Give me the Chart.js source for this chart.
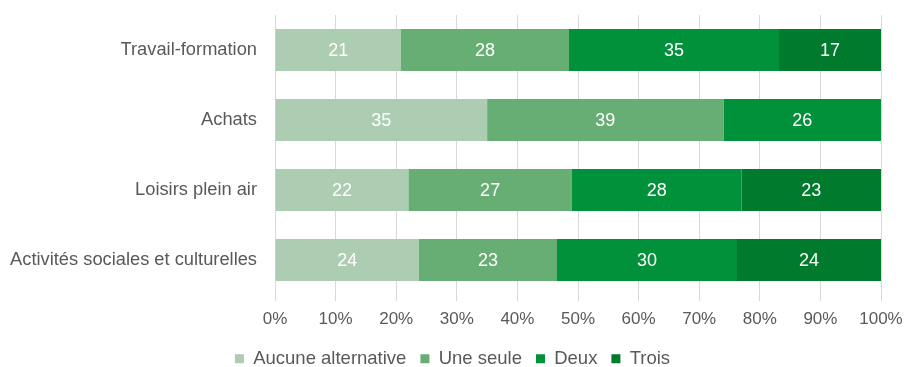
<!DOCTYPE html>
<html>
<head>
<meta charset="utf-8">
<script src="https://cdn.jsdelivr.net/npm/chart.js@4/dist/chart.umd.min.js"></script>
<style>
  html, body { margin: 0; padding: 0; background: #fff; }
  #wrap { width: 905px; height: 367px; position: relative; }
</style>
</head>
<body>
<div id="wrap"><canvas id="chart"></canvas></div>
<script>
// Categories and series (in %)
const categories = ['Travail-formation', 'Achats', 'Loisirs plein air', 'Activités sociales et culturelles'];
const seriesNames = ['Aucune alternative', 'Une seule', 'Deux', 'Trois'];
const aucune = [21, 35, 22, 24];
const uneSeule = [28, 39, 27, 23];
const deux = [35, 26, 28, 30];
const trois = [17, 0, 23, 24];
const xTicks = ['0%', '10%', '20%', '30%', '40%', '50%', '60%', '70%', '80%', '90%', '100%'];

const colors = ['#adcdb2', '#67ae74', '#00913a', '#007a2c'];
const allSeries = [aucune, uneSeule, deux, trois];

// 100% stacked: normalise each row to its total
const totals = categories.map((_, i) => allSeries.reduce((s, arr) => s + arr[i], 0));

const datasets = allSeries.map((arr, k) => ({
    label: seriesNames[k],
    data: arr.map((v, i) => v / totals[i] * 100),
    raw: arr,
    backgroundColor: colors[k],
    borderWidth: 0,
    barPercentage: 0.6,
    categoryPercentage: 1.0
}));

// Draw the value labels inside each segment
const valueLabels = {
    id: 'valueLabels',
    afterDatasetsDraw(chart) {
        const ctx = chart.ctx;
        ctx.save();
        ctx.fillStyle = '#ffffff';
        ctx.font = '18px "Liberation Sans", Arial, sans-serif';
        ctx.textAlign = 'center';
        ctx.textBaseline = 'middle';
        chart.data.datasets.forEach((ds, k) => {
            const meta = chart.getDatasetMeta(k);
            meta.data.forEach((bar, i) => {
                const v = ds.raw[i];
                if (!v) return;
                const x = (bar.x + bar.base) / 2;
                ctx.fillText(String(v), x, bar.y + 1);
            });
        });
        ctx.restore();
    }
};

// Center the legend on the full canvas width
const legendCenter = {
    id: 'legendCenter',
    afterLayout(chart) {
        if (chart.legend) {
            chart.legend.left = 0;
            chart.legend.right = chart.width;
        }
    }
};

Chart.defaults.font.family = '"Liberation Sans", Arial, sans-serif';
Chart.defaults.font.size = 18;
Chart.defaults.color = '#595959';

new Chart(document.getElementById('chart'), {
    type: 'bar',
    data: { labels: categories, datasets: datasets },
    options: {
        indexAxis: 'y',
        responsive: true,
        maintainAspectRatio: false,
        animation: false,
        layout: { padding: { top: 15, right: 24, left: 0, bottom: -11 } },
        scales: {
            x: {
                stacked: true,
                min: 0,
                max: 100,
                grid: { color: '#d9d9d9', drawTicks: true, tickLength: 6, tickColor: '#d9d9d9' },
                border: { display: false },
                ticks: {
                    stepSize: 10,
                    padding: 8,
                    maxRotation: 0,
                    font: { size: 17 },
                    callback: (v, i) => xTicks[i]
                },
                afterFit(scale) {
                    scale.paddingLeft = 0;
                    scale.paddingRight = 0;
                    scale.height -= 2;
                }
            },
            y: {
                stacked: true,
                grid: { display: false },
                border: { display: false },
                ticks: { padding: 10, font: { size: 18.3 } },
                afterFit(scale) {
                    scale.width = 275;
                    scale.paddingTop = 0;
                    scale.paddingBottom = 0;
                }
            }
        },
        plugins: {
            legend: {
                position: 'bottom',
                labels: {
                    boxWidth: 9,
                    boxHeight: 9,
                    padding: 14,
                    font: { size: 18.5 }
                }
            },
            tooltip: { enabled: false }
        }
    },
    plugins: [valueLabels, legendCenter]
});
</script>
</body>
</html>
